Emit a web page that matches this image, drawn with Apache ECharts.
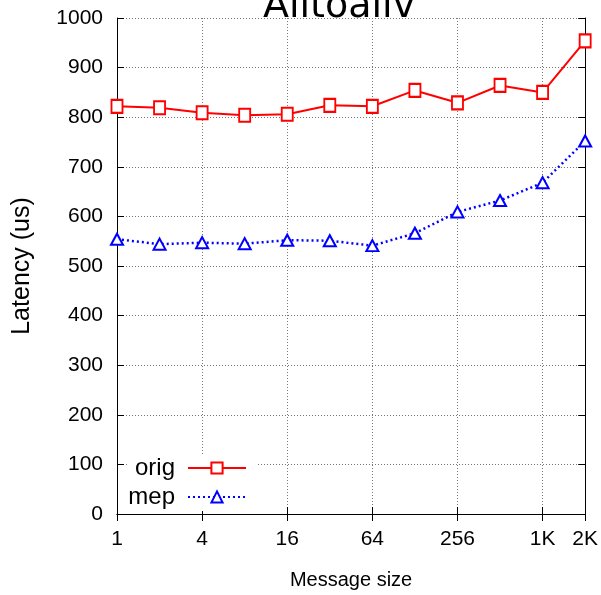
<!DOCTYPE html>
<html>
<head>
<meta charset="utf-8">
<script src="https://cdn.jsdelivr.net/npm/echarts@6/dist/echarts.min.js"></script>
<style>
  html, body { margin: 0; padding: 0; background: #fff; }
  #chart { width: 601px; height: 595px; }
</style>
</head>
<body>
<div id="chart"></div>
<script>
// data
var sizes = ['1', '2', '4', '8', '16', '32', '64', '128', '256', '512', '1K', '2K'];
var orig = [822, 819, 809, 804, 806, 824, 822, 854, 829, 864, 850, 954];
var mep = [554, 544, 547, 545, 552, 551, 541, 566, 609, 632, 668, 752];

var sans = "'Liberation Sans', Arial, sans-serif";

// gnuplot style: labels/grid on every second size, plus the last one
var showTick = function (i) { return i % 2 === 0 || i === sizes.length - 1; };

var chart = echarts.init(document.getElementById('chart'));

var gridDots = { color: '#777', width: 1, type: [1, 2] };

var legendBox = function (name, top) {
  return {
    data: [name],
    right: 343,
    top: top,
    padding: [2, 11, 2, 8],
    backgroundColor: '#fff',
    align: 'right',
    itemWidth: 58,
    itemHeight: 14,
    textStyle: { fontFamily: sans, fontSize: 24, color: '#000', padding: [0, 8, 0, 0] }
  };
};

chart.setOption({
  animation: false,
  title: {
    text: 'Alltoallv',
    left: 263,
    top: -12,
    padding: 0,
    textStyle: { fontFamily: 'DejaVu Sans', fontSize: 38, fontWeight: 'normal', color: '#000' }
  },
  legend: [legendBox('orig', 454), legendBox('mep', 483)],
  grid: { left: 117, right: 14, top: 18, bottom: 79 },
  xAxis: [{
    type: 'category',
    data: sizes,
    boundaryGap: false,
    name: 'Message size',
    nameLocation: 'middle',
    nameGap: 56,
    nameTextStyle: { fontFamily: sans, fontSize: 20, color: '#000' },
    axisLine: { lineStyle: { color: '#000', width: 1 } },
    axisTick: { inside: true, length: 7, interval: showTick, lineStyle: { color: '#000' } },
    axisLabel: { interval: showTick, fontFamily: sans, fontSize: 21, color: '#000', margin: 15 },
    splitLine: { show: true, interval: showTick, lineStyle: gridDots }
  }, {
    type: 'category',
    data: sizes,
    boundaryGap: false,
    position: 'top',
    axisLine: { lineStyle: { color: '#000', width: 1 } },
    axisTick: { inside: true, length: 7, interval: showTick, lineStyle: { color: '#000' } },
    axisLabel: { show: false },
    splitLine: { show: false }
  }],
  yAxis: [{
    type: 'value',
    min: 0,
    max: 1000,
    interval: 100,
    name: 'Latency (us)',
    nameLocation: 'middle',
    nameGap: 82,
    nameTextStyle: { fontFamily: sans, fontSize: 25, color: '#000' },
    axisLine: { show: true, lineStyle: { color: '#000', width: 1 } },
    axisTick: { show: true, inside: true, length: 7, lineStyle: { color: '#000' } },
    axisLabel: {
      fontFamily: sans, fontSize: 21, color: '#000', margin: 14,
      formatter: function (v) { return String(v); }
    },
    splitLine: { show: true, lineStyle: gridDots }
  }, {
    type: 'value',
    min: 0,
    max: 1000,
    interval: 100,
    position: 'right',
    axisLine: { show: true, lineStyle: { color: '#000', width: 1 } },
    axisTick: { show: true, inside: true, length: 7, lineStyle: { color: '#000' } },
    axisLabel: { show: false },
    splitLine: { show: false }
  }],
  series: [{
    name: 'orig',
    type: 'line',
    data: orig,
    symbol: 'rect',
    symbolSize: [11, 13],
    itemStyle: { color: '#fff', borderColor: '#ff0000', borderWidth: 2 },
    lineStyle: { color: '#ff0000', width: 2 },
    z: 3
  }, {
    name: 'mep',
    type: 'line',
    data: mep,
    symbol: 'triangle',
    symbolSize: [12, 11],
    itemStyle: { color: '#fff', borderColor: '#0000ff', borderWidth: 2 },
    lineStyle: { color: '#0000ff', width: 2.5, type: [2, 3] },
    z: 3
  }]
});
</script>
</body>
</html>
